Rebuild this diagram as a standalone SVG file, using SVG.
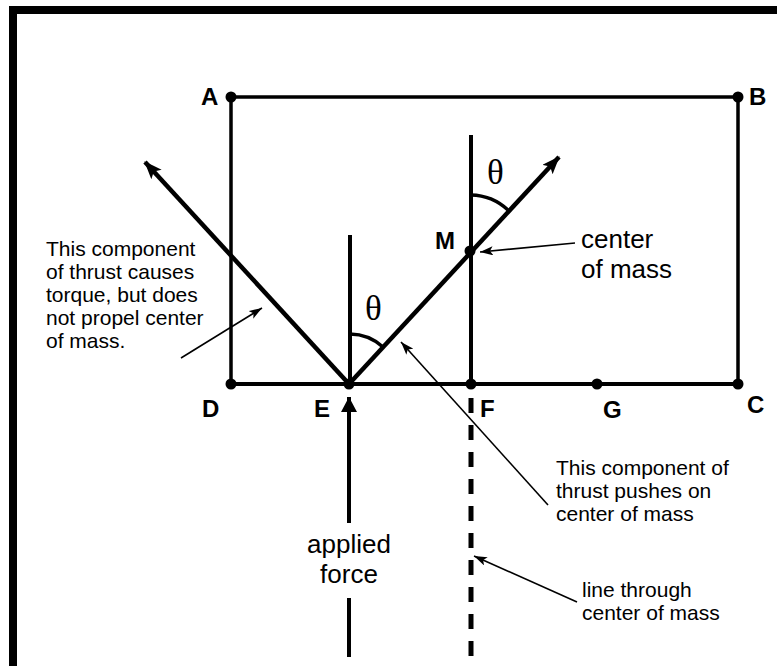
<svg xmlns="http://www.w3.org/2000/svg" width="777" height="666" viewBox="0 0 777 666">
<style>
.lbl{font-family:"Liberation Sans",Arial,sans-serif;font-weight:bold;font-size:24px;fill:#000}
.note{font-family:"Liberation Sans",Arial,sans-serif;font-size:21px;fill:#000}
.big{font-family:"Liberation Sans",Arial,sans-serif;font-size:26px;fill:#000}
.th{font-family:"Liberation Serif","Times New Roman",serif;font-size:35px;fill:#000}
.ln{stroke:#000;fill:none;stroke-linecap:butt}
.thin{stroke:#000;stroke-width:1.6;fill:none}
</style>
<defs>
<marker id="bigHead" markerUnits="userSpaceOnUse" markerWidth="20" markerHeight="16" refX="17" refY="7" orient="auto">
<path d="M0,0 L18,7 L0,14 L4,7 Z" fill="#000"/>
</marker>
<marker id="thinHead" markerUnits="userSpaceOnUse" markerWidth="14" markerHeight="10" refX="13" refY="4.5" orient="auto">
<path d="M0,0 L13,4.5 L0,9 L3,4.5 Z" fill="#000"/>
</marker>
<marker id="forceHead" markerUnits="userSpaceOnUse" markerWidth="18" markerHeight="18" refX="15" refY="8" orient="auto">
<path d="M0,0 L15,8 L0,16 Z" fill="#000"/>
</marker>
</defs>
<rect width="777" height="666" fill="#fff"/>
<g id="frame">
<rect x="9" y="6" width="768" height="8" fill="#000"/>
<rect x="9" y="6" width="8" height="660" fill="#000"/>
</g>
<g id="connectors">
<path class="ln" stroke-width="3.5" d="M231,97 H738 V384 M231,97 V384"/>
<path class="ln" stroke-width="4" d="M231,384 H738"/>
<path class="ln" stroke-width="4" d="M471,135 V384"/>
<path class="ln" stroke-width="4" d="M350,235 V384"/>
<path class="ln" stroke-width="4.5" d="M349,384 L145,162" marker-end="url(#bigHead)"/>
<path class="ln" stroke-width="4.5" d="M349,384 L559,157" marker-end="url(#bigHead)"/>
<path class="ln" stroke-width="3.5" d="M350,334 A50,50 0 0 1 383,347"/>
<path class="ln" stroke-width="3.5" d="M471,195 A56,56 0 0 1 508,210"/>
<path class="ln" stroke-width="4" d="M349,523 V397" marker-end="url(#forceHead)"/>
<path class="ln" stroke-width="4" d="M349,598 V657"/>
<path class="ln" stroke-width="5" stroke-dasharray="15 12" d="M471,398 V657"/>
<path class="thin" d="M181,358 L262,308" marker-end="url(#thinHead)"/>
<path class="thin" d="M575,243 L480,252" marker-end="url(#thinHead)"/>
<path class="thin" d="M548,505 L401,342" marker-end="url(#thinHead)"/>
<path class="thin" d="M577,602 L474,556" marker-end="url(#thinHead)"/>
</g>
<g id="A"><circle cx="231" cy="97" r="5.5"/><text class="lbl" x="201" y="105">A</text></g>
<g id="B"><circle cx="738" cy="97" r="5.5"/><text class="lbl" x="749" y="105">B</text></g>
<g id="C"><circle cx="738" cy="384" r="5.5"/><text class="lbl" x="747" y="413">C</text></g>
<g id="D"><circle cx="231" cy="384" r="5.5"/><text class="lbl" x="202" y="417">D</text></g>
<g id="E"><circle cx="349" cy="384" r="5.5"/><text class="lbl" x="314" y="417">E</text></g>
<g id="F"><circle cx="471" cy="384" r="5.5"/><text class="lbl" x="480" y="417">F</text></g>
<g id="G"><circle cx="597" cy="384" r="5.5"/><text class="lbl" x="603" y="418">G</text></g>
<g id="M"><circle cx="470" cy="251" r="5.5"/><text class="lbl" x="435" y="249">M</text></g>
<g id="thetaE"><text class="th" x="365" y="320">θ</text></g>
<g id="thetaM"><text class="th" x="487" y="184">θ</text></g>
<g id="noteTorque"><text class="note"><tspan x="46" y="256">This component</tspan><tspan x="46" y="279">of thrust causes</tspan><tspan x="46" y="302">torque, but does</tspan><tspan x="46" y="325">not propel center</tspan><tspan x="46" y="348">of mass.</tspan></text></g>
<g id="noteCenter"><text class="big"><tspan x="581" y="248">center</tspan><tspan x="581" y="278">of mass</tspan></text></g>
<g id="notePush"><text class="note"><tspan x="556" y="475">This component of</tspan><tspan x="556" y="498">thrust pushes on</tspan><tspan x="556" y="521">center of mass</tspan></text></g>
<g id="noteForce"><text class="big" text-anchor="middle"><tspan x="349" y="553">applied</tspan><tspan x="349" y="583">force</tspan></text></g>
<g id="noteLine"><text class="note"><tspan x="582" y="597">line through</tspan><tspan x="582" y="620">center of mass</tspan></text></g>
</svg>
